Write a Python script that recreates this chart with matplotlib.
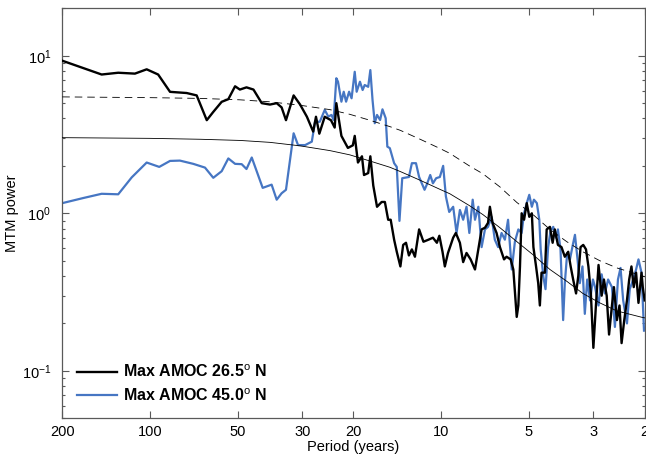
import matplotlib
matplotlib.use("Agg")
import matplotlib.pyplot as plt
from matplotlib.ticker import FixedLocator, NullLocator, FixedFormatter

plt.rcParams['font.family'] = ['Liberation Sans', 'DejaVu Sans']
plt.rcParams['mathtext.fontset'] = 'custom'
plt.rcParams['mathtext.rm'] = 'Liberation Sans'
plt.rcParams['mathtext.it'] = 'Liberation Sans:italic'
plt.rcParams['mathtext.bf'] = 'Liberation Sans:bold'

# MTM spectra, period in years
amoc265_period = [200, 146.5, 128.5, 112.6, 102.6, 93.7, 85.3, 74.8, 69.1, 63.8,
                  60.6, 56.7, 53.8, 51.0, 49.1, 46.6, 44.1, 41.3, 38.7, 36.7,
                  35.3, 34.1, 32.1, 30.5, 28.9, 27.5, 26.9, 26.2, 25.1, 23.9,
                  23.2, 22.9, 22.0, 20.9, 20.1, 19.8, 19.3, 18.7, 18.4, 17.8,
                  17.5, 17.1, 16.6, 16.0, 15.6, 15.2, 14.9, 14.5, 14.2, 13.8,
                  13.5, 13.2, 12.9, 12.6, 12.3, 11.9, 11.5, 11.05, 10.67, 10.34,
                  10.14, 9.89, 9.71, 9.47, 9.09, 8.9, 8.62, 8.40, 8.18, 7.92,
                  7.65, 7.45, 7.26, 7.07, 6.9, 6.80, 6.66, 6.45, 6.28, 6.08,
                  5.96, 5.77, 5.65, 5.50, 5.43, 5.36, 5.29, 5.19, 5.08, 4.98,
                  4.88, 4.82, 4.72, 4.64, 4.58, 4.52, 4.40, 4.34, 4.23, 4.14,
                  4.07, 3.97, 3.86, 3.76, 3.66, 3.59, 3.52, 3.44, 3.38, 3.32,
                  3.25, 3.18, 3.12, 3.06, 3.00, 2.94, 2.88, 2.81, 2.76, 2.70,
                  2.65, 2.59, 2.55, 2.49, 2.44, 2.40, 2.35, 2.30, 2.26, 2.22,
                  2.18, 2.14, 2.10, 2.05, 2.03, 2.0]
amoc265_power = [9.3, 7.6, 7.8, 7.7, 8.2, 7.6, 5.9, 5.8, 5.6, 3.9,
                 4.4, 5.1, 5.3, 6.4, 6.1, 6.3, 6.1, 5.0, 4.9, 5.0,
                 4.7, 3.9, 5.6, 4.9, 4.1, 3.3, 4.1, 3.2, 4.1, 3.9,
                 3.5, 5.0, 3.1, 2.6, 2.7, 3.1, 2.1, 2.3, 1.75, 1.8,
                 2.3, 1.5, 1.1, 1.18, 1.18, 0.91, 0.91, 0.68, 0.57, 0.46,
                 0.63, 0.65, 0.54, 0.59, 0.53, 0.79, 0.66, 0.68, 0.70, 0.65,
                 0.72, 0.57, 0.46, 0.56, 0.70, 0.75, 0.65, 0.49, 0.56, 0.51,
                 0.44, 0.59, 0.79, 0.81, 0.87, 1.1, 0.87, 0.75, 0.61, 0.51,
                 0.53, 0.51, 0.44, 0.22, 0.26, 0.46, 1.0, 0.91, 1.16, 0.95,
                 1.0, 0.61, 0.46, 0.36, 0.26, 0.42, 0.42, 0.79, 0.82, 0.65,
                 0.79, 0.63, 0.61, 0.53, 0.57, 0.46, 0.38, 0.31, 0.40, 0.61,
                 0.63, 0.59, 0.46, 0.31, 0.14, 0.26, 0.47, 0.30, 0.38, 0.30,
                 0.17, 0.26, 0.34, 0.21, 0.26, 0.15, 0.21, 0.28, 0.38, 0.46,
                 0.34, 0.42, 0.27, 0.42, 0.34, 0.28]

amoc45_period = [200, 169.4, 146.5, 128.5, 115.5, 102.6, 92.9, 85.3, 78.9, 71.0,
                 64.7, 60.6, 56.7, 53.8, 51.0, 48.4, 46.6, 44.7, 41.0, 38.2,
                 36.7, 35.3, 34.1, 32.1, 31.0, 29.3, 27.8, 27.1, 26.1, 25.1,
                 24.4, 23.8, 23.4, 22.9, 22.6, 22.0, 21.6, 21.2, 20.7, 20.3,
                 19.8, 19.5, 19.0, 18.6, 18.3, 17.8, 17.5, 17.2, 16.9, 16.6,
                 16.2, 15.9, 15.5, 15.3, 15.0, 14.7, 14.5, 14.2, 13.9, 13.6,
                 12.9, 12.6, 12.2, 11.9, 11.4, 11.2, 10.9, 10.67, 10.4, 10.1,
                 9.84, 9.63, 9.38, 9.09, 8.85, 8.62, 8.40, 8.18, 8.0, 7.79,
                 7.65, 7.45, 7.26, 7.07, 6.9, 6.71, 6.54, 6.37, 6.20, 6.04,
                 5.89, 5.72, 5.58, 5.43, 5.29, 5.19, 5.08, 4.98, 4.88, 4.80,
                 4.69, 4.60, 4.55, 4.46, 4.38, 4.29, 4.21, 4.12, 4.03, 3.97,
                 3.89, 3.81, 3.76, 3.69, 3.61, 3.53, 3.47, 3.40, 3.34, 3.27,
                 3.21, 3.15, 3.08, 3.01, 2.96, 2.88, 2.81, 2.74, 2.67, 2.59,
                 2.53, 2.47, 2.42, 2.37, 2.30, 2.25, 2.19, 2.14, 2.10, 2.05,
                 2.01]
amoc45_power = [1.16, 1.25, 1.33, 1.32, 1.69, 2.10, 1.97, 2.15, 2.16, 2.06,
                1.95, 1.68, 1.85, 2.23, 2.06, 2.05, 1.91, 2.26, 1.45, 1.52,
                1.22, 1.34, 1.41, 3.22, 2.71, 2.71, 2.85, 3.81, 3.81, 4.53,
                4.11, 4.21, 3.91, 7.2, 6.84, 5.11, 5.91, 5.11, 5.91, 5.37,
                7.91, 5.91, 6.84, 6.06, 6.52, 6.35, 8.11, 5.24, 3.73, 4.21,
                3.91, 4.57, 4.01, 2.65, 2.59, 2.28, 2.08, 1.97, 0.895, 1.67,
                1.70, 2.08, 2.08, 1.70, 1.41, 1.52, 1.75, 1.55, 1.67, 1.70,
                2.00, 1.28, 1.02, 1.10, 0.75, 1.05, 0.91, 1.10, 0.75, 1.22,
                0.91, 1.10, 0.61, 0.79, 0.82, 0.95, 0.68, 0.61, 0.75, 0.68,
                0.91, 0.44, 0.66, 0.79, 0.75, 1.0, 1.16, 1.31, 1.10, 1.22,
                1.16, 0.91, 0.59, 0.40, 0.33, 0.61, 0.77, 0.82, 0.70, 0.79,
                0.59, 0.21, 0.36, 0.56, 0.51, 0.63, 0.73, 0.51, 0.36, 0.46,
                0.23, 0.38, 0.28, 0.38, 0.34, 0.26, 0.41, 0.31, 0.38, 0.34,
                0.19, 0.38, 0.45, 0.28, 0.20, 0.33, 0.38, 0.44, 0.51, 0.42,
                0.18]

# red-noise background and its upper confidence level
fit_period = [200, 100, 67, 49, 38.7, 30.5, 24.1, 20.6, 17.6, 15.0,
              13.8, 11.8, 10.1, 9.33, 8.0, 7.18, 6.28, 5.49, 4.8, 4.23,
              3.7, 3.26, 2.85, 2.49, 2.03, 2.0]
fit_power = [3.02, 2.99, 2.95, 2.90, 2.82, 2.68, 2.50, 2.35, 2.15, 1.96,
             1.84, 1.62, 1.42, 1.33, 1.12, 0.98, 0.81, 0.66, 0.54, 0.44,
             0.37, 0.31, 0.27, 0.24, 0.218, 0.217]
conf_power = [5.48, 5.42, 5.36, 5.25, 5.1, 4.85, 4.55, 4.25, 3.9, 3.55,
              3.36, 2.95, 2.58, 2.40, 2.0, 1.78, 1.47, 1.17, 0.97, 0.79,
              0.66, 0.57, 0.50, 0.45, 0.40, 0.395]

period_ticks = [200, 100, 50, 30, 20, 10, 5, 3, 2]

fig = plt.figure(figsize=(6.46, 4.59), dpi=100)
ax = fig.add_axes([0.0964, 0.0887, 0.9015, 0.8932])

ax.plot(amoc45_period, amoc45_power, color='#4676c3', lw=1.6,
        label=r'Max AMOC 45.0$^{\rm o}$ N', zorder=2)
ax.plot(amoc265_period, amoc265_power, color='black', lw=1.7,
        label=r'Max AMOC 26.5$^{\rm o}$ N', zorder=3)
ax.plot(fit_period, fit_power, color='black', lw=0.6, zorder=4)
ax.plot(fit_period, conf_power, color='black', lw=0.6, ls=(0, (9, 6)), zorder=4)

ax.set_xscale('log')
ax.set_yscale('log')
ax.set_xlim(200, 2)
ax.set_ylim(0.05, 20)

ax.xaxis.set_major_locator(FixedLocator(period_ticks))
ax.xaxis.set_major_formatter(FixedFormatter([str(p) for p in period_ticks]))
ax.xaxis.set_minor_locator(NullLocator())

ax.tick_params(which='both', direction='in', top=True, right=True,
               color='0.35', width=0.8)
ax.tick_params(which='major', length=5)
ax.tick_params(which='minor', length=2.5)
ax.tick_params(axis='x', labelsize=10.5, pad=4.5)
ax.tick_params(axis='y', labelsize=10.5, pad=8)
for s in ax.spines.values():
    s.set_color('0.35')
    s.set_linewidth(0.9)

ax.set_xlabel('Period (years)', fontsize=10.5, labelpad=1)
ax.set_ylabel('MTM power', fontsize=10.5, labelpad=2)

handles, labels = ax.get_legend_handles_labels()
ax.legend(handles[::-1], labels[::-1], loc='lower left', frameon=False,
          handlelength=2.5, handletextpad=0.4, labelspacing=0.45,
          bbox_to_anchor=(0.0, 0.0), prop={'weight': 'bold', 'size': 11.5})

fig.savefig('out.png', dpi=100)
